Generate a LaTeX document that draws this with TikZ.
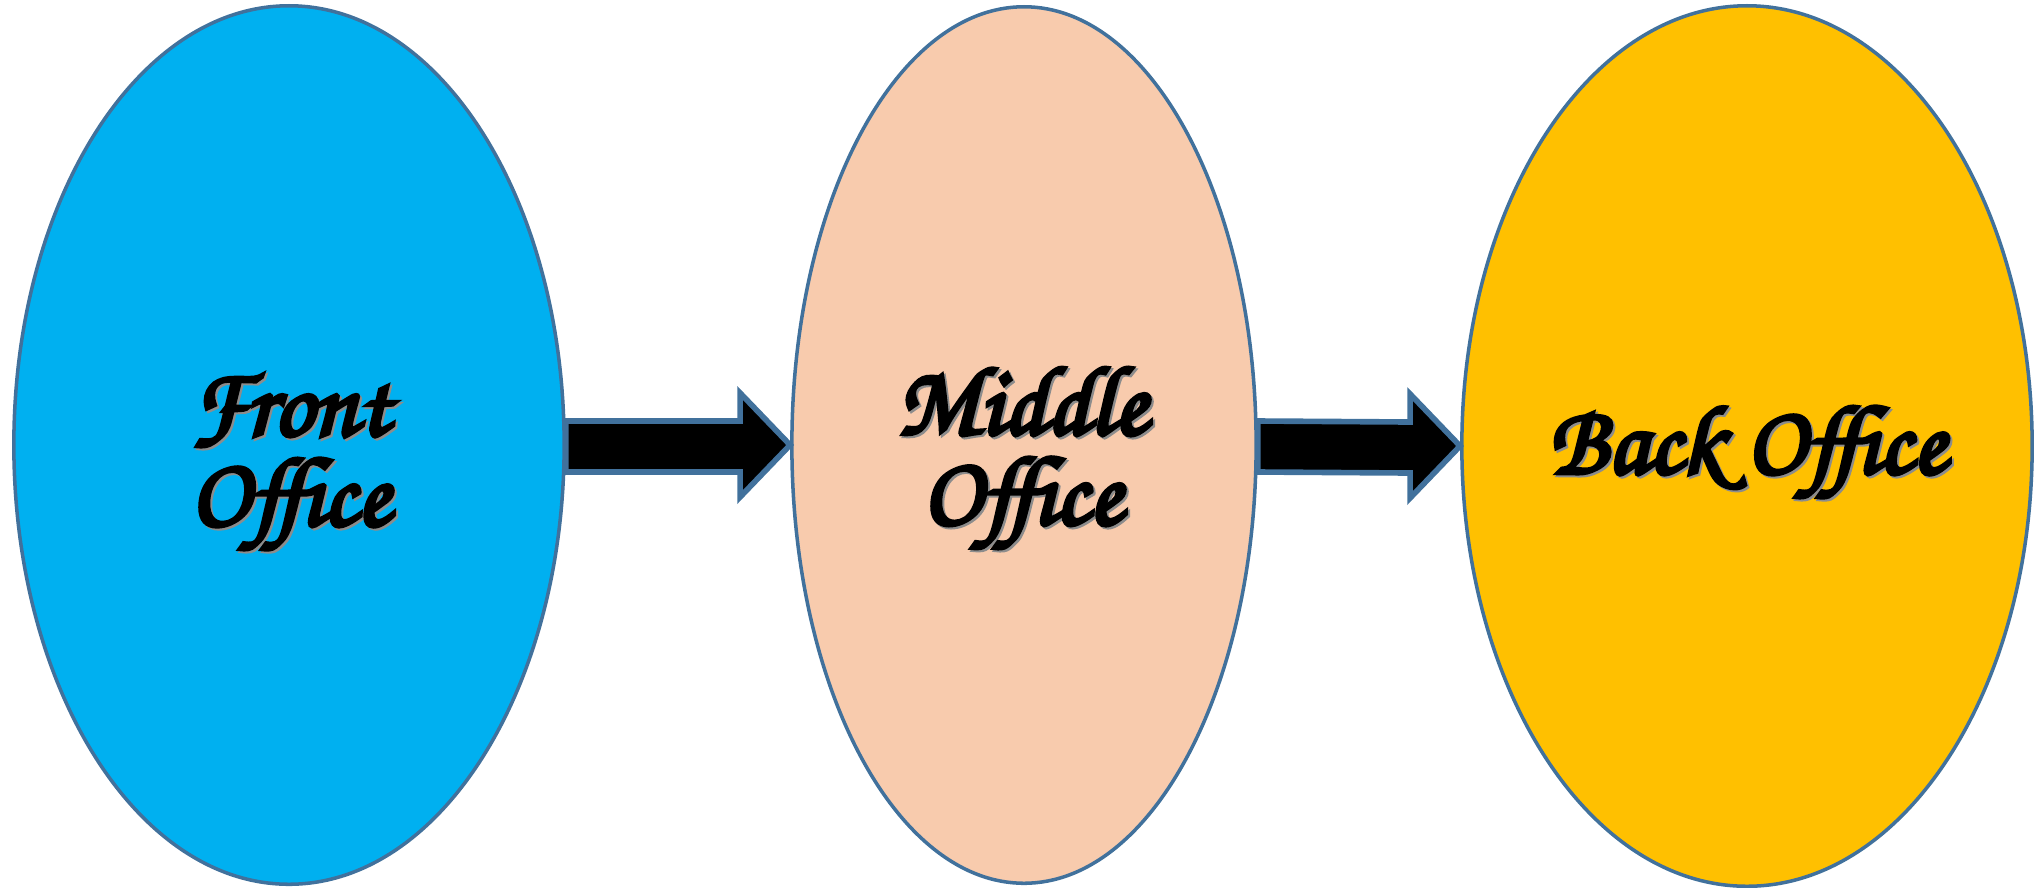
\documentclass[tikz,border=0pt]{standalone}
\usepackage{fontspec}
\newfontfamily\brushfont{TeX Gyre Chorus}[FakeBold=4]
\usetikzlibrary{shapes.geometric,calc}
\definecolor{fblue}{HTML}{00B0F0}
\definecolor{mpeach}{HTML}{F8CBAD}
\definecolor{bgold}{HTML}{FFC000}
\definecolor{edge}{HTML}{41719C}
\tikzset{
  office/.style={ellipse, draw=edge, line width=1pt, inner sep=0pt},
  lbl/.style={align=center, text=black, font=\brushfont\fontsize{28}{25.6}\selectfont},
  shadowlbl/.style={lbl, text=black!45},
  bigarrow/.style={fill=black, draw=edge, line width=1.6pt, line join=miter}
}
\begin{document}
\begin{tikzpicture}[x=0.01cm,y=-0.01cm]
\useasboundingbox (0,0) rectangle (2036,887);
\node[office, fill=fblue, minimum width=5.5cm, minimum height=8.78cm] (fo) at (289,445) {};
\node[office, fill=mpeach, minimum width=4.64cm, minimum height=8.76cm] (mo) at (1024,445) {};
\node[office, fill=bgold, minimum width=5.7cm, minimum height=8.8cm] (bo) at (1747,446) {};
% labels with light shadow
\node[shadowlbl] (fos) at (292,464) {Front\\Office};
\node[lbl] (fot) at (290,462) {Front\\Office};
\node[shadowlbl] (mos) at (1024,460) {Middle\\Office};
\node[lbl] (mot) at (1022,458) {Middle\\Office};
\node[shadowlbl] (bos) at (1749,454) {Back Office};
\node[lbl] (bot) at (1747,452) {Back Office};
% block arrows
\draw[bigarrow] ($(fo.east)+(0,-24)$) -- ($(mo.west)+(-50,-24)$) -- ($(mo.west)+(-50,-52)$) -- (mo.west)
  -- ($(mo.west)+(-50,52)$) -- ($(mo.west)+(-50,27)$) -- ($(fo.east)+(0,27)$) -- cycle;
\draw[bigarrow] ($(mo.east)+(0,-24)$) -- ($(bo.west)+(-50,-24)$) -- ($(bo.west)+(-50,-52)$) -- (bo.west)
  -- ($(bo.west)+(-50,52)$) -- ($(bo.west)+(-50,27)$) -- ($(mo.east)+(0,27)$) -- cycle;
\end{tikzpicture}
\end{document}
